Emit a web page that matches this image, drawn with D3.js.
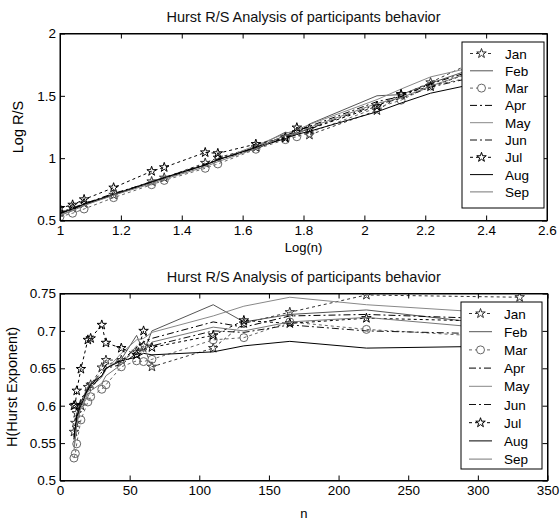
<!DOCTYPE html>
<html>
<head>
<meta charset="utf-8">
<script src="https://cdn.jsdelivr.net/npm/d3@7"></script>
<style>
  body { margin: 0; background: #fff; }
  svg { font-family: "Liberation Sans", Arial, sans-serif; }
</style>
</head>
<body>
<svg id="chart" width="560" height="521"></svg>
<script>
// window sizes n used for the R/S analysis
const nVals = [10, 11, 12, 15, 20, 22, 30, 33, 44, 55, 60, 66, 110, 132, 165, 220, 330];
const months = ['Jan', 'Feb', 'Mar', 'Apr', 'May', 'Jun', 'Jul', 'Aug', 'Sep'];

// Hurst exponent per month, one value per n
const hJan = [0.565, 0.577, 0.590, 0.600, 0.625, 0.628, 0.651, 0.661, 0.661, 0.672, 0.680, 0.652, 0.677, 0.710, 0.725, 0.748, 0.745];
const hFeb = [0.555, 0.567, 0.585, 0.605, 0.625, 0.630, 0.640, 0.650, 0.662, 0.694, 0.672, 0.700, 0.735, 0.712, 0.722, 0.728, 0.705];
const hMar = [0.530, 0.536, 0.549, 0.581, 0.605, 0.612, 0.622, 0.628, 0.652, 0.660, 0.659, 0.662, 0.688, 0.691, 0.712, 0.702, 0.690];
const hApr = [0.560, 0.570, 0.588, 0.610, 0.620, 0.628, 0.645, 0.655, 0.660, 0.678, 0.685, 0.690, 0.712, 0.705, 0.720, 0.722, 0.715];
const hMay = [0.545, 0.560, 0.578, 0.600, 0.618, 0.625, 0.638, 0.648, 0.670, 0.688, 0.690, 0.698, 0.720, 0.733, 0.745, 0.735, 0.722];
const hJun = [0.555, 0.568, 0.582, 0.605, 0.622, 0.624, 0.640, 0.650, 0.655, 0.670, 0.675, 0.680, 0.700, 0.698, 0.708, 0.700, 0.695];
const hJul = [0.600, 0.601, 0.620, 0.649, 0.688, 0.690, 0.708, 0.684, 0.677, 0.668, 0.700, 0.678, 0.694, 0.714, 0.710, 0.717, 0.712];
const hAug = [0.558, 0.570, 0.585, 0.600, 0.622, 0.628, 0.640, 0.650, 0.660, 0.665, 0.670, 0.668, 0.672, 0.680, 0.686, 0.677, 0.680];
const hSep = [0.540, 0.555, 0.575, 0.598, 0.612, 0.620, 0.630, 0.640, 0.655, 0.680, 0.672, 0.685, 0.705, 0.700, 0.712, 0.718, 0.700];
const hAll = [hJan, hFeb, hMar, hApr, hMay, hJun, hJul, hAug, hSep];

const topXTicks = [1, 1.2, 1.4, 1.6, 1.8, 2, 2.2, 2.4, 2.6];
const topYTicks = [0.5, 1, 1.5, 2];
const botXTicks = [0, 50, 100, 150, 200, 250, 300, 350];
const botYTicks = [0.5, 0.55, 0.6, 0.65, 0.7, 0.75];

// line style per month
const styles = [
  {color: '#333', dash: '3,3', marker: 'star'},
  {color: '#555', dash: null, marker: null},
  {color: '#666', dash: '3,3', marker: 'circle'},
  {color: '#000', dash: '7,3,2,3', marker: null},
  {color: '#888', dash: null, marker: null},
  {color: '#111', dash: '7,3,2,3', marker: null},
  {color: '#000', dash: '3,3', marker: 'star'},
  {color: '#000', dash: null, marker: null},
  {color: '#777', dash: null, marker: null}
];

const svg = d3.select('#chart');
const fmt = d => String(d);
const star = d3.symbol().type(d3.symbolStar).size(28);

function drawPanel(opt) {
  const {x, y, xTicks, yTicks, series, title, xLabel, xLabelDy, yLabel, yLabelX, legend, id} = opt;
  const g = svg.append('g');
  const [x0, x1] = x.range();
  const [y0, y1] = y.range();

  g.append('clipPath').attr('id', id)
    .append('rect').attr('x', x0).attr('y', y1).attr('width', x1 - x0).attr('height', y0 - y1);

  const plot = g.append('g').attr('clip-path', `url(#${id})`);
  const line = d3.line().x(d => x(d[0])).y(d => y(d[1]));

  series.forEach((pts, i) => {
    const s = styles[i];
    plot.append('path')
      .attr('d', line(pts))
      .attr('fill', 'none')
      .attr('stroke', s.color)
      .attr('stroke-width', 1)
      .attr('stroke-dasharray', s.dash);
    if (s.marker === 'star') {
      plot.selectAll(null).data(pts).enter().append('path')
        .attr('d', star)
        .attr('transform', d => `translate(${x(d[0])},${y(d[1])})`)
        .attr('fill', 'none').attr('stroke', s.color).attr('stroke-width', 1);
    } else if (s.marker === 'circle') {
      plot.selectAll(null).data(pts).enter().append('circle')
        .attr('cx', d => x(d[0])).attr('cy', d => y(d[1])).attr('r', 4)
        .attr('fill', 'none').attr('stroke', s.color).attr('stroke-width', 1);
    }
  });

  // axes, MATLAB style: ticks inside, box all round
  const axes = g.append('g');
  axes.append('g').attr('transform', `translate(0,${y0})`)
    .call(d3.axisBottom(x).tickValues(xTicks).tickFormat(fmt).tickSizeInner(-5).tickSizeOuter(0).tickPadding(5));
  axes.append('g').attr('transform', `translate(0,${y1})`)
    .call(d3.axisTop(x).tickValues(xTicks).tickFormat('').tickSizeInner(-5).tickSizeOuter(0));
  axes.append('g').attr('transform', `translate(${x0},0)`)
    .call(d3.axisLeft(y).tickValues(yTicks).tickFormat(fmt).tickSizeInner(-5).tickSizeOuter(0).tickPadding(4));
  axes.append('g').attr('transform', `translate(${x1},0)`)
    .call(d3.axisRight(y).tickValues(yTicks).tickFormat('').tickSizeInner(-5).tickSizeOuter(0));
  axes.selectAll('.domain').attr('stroke', '#000');
  axes.selectAll('.tick line').attr('stroke', '#000');
  axes.selectAll('.tick text').attr('fill', '#000').attr('font-size', 13.5)
    .attr('font-family', '"Liberation Sans", Arial, sans-serif');

  g.append('rect').attr('x', x0).attr('y', y1).attr('width', x1 - x0).attr('height', y0 - y1)
    .attr('fill', 'none').attr('stroke', '#000').attr('stroke-width', 1);

  const cx = (x0 + x1) / 2;
  g.append('text').attr('x', cx).attr('y', y1 - 12)
    .attr('text-anchor', 'middle').attr('font-size', 14.5).attr('fill', '#111').text(title);
  g.append('text').attr('x', cx).attr('y', y0 + xLabelDy)
    .attr('text-anchor', 'middle').attr('font-size', 13).text(xLabel);
  g.append('text').attr('transform', `translate(${yLabelX},${(y0 + y1) / 2}) rotate(-90)`)
    .attr('text-anchor', 'middle').attr('font-size', 14.5).text(yLabel);

  // legend
  const lg = g.append('g');
  lg.append('rect').attr('x', legend.x).attr('y', legend.y).attr('width', legend.w).attr('height', legend.h)
    .attr('fill', '#fff').attr('stroke', '#000');
  months.forEach((m, i) => {
    const s = styles[i];
    const ry = legend.y + 11.5 + i * legend.step;
    const lx0 = legend.x + 8, lx1 = legend.x + 31;
    lg.append('line').attr('x1', lx0).attr('x2', lx1).attr('y1', ry).attr('y2', ry)
      .attr('stroke', s.color).attr('stroke-dasharray', s.dash);
    const mx = (lx0 + lx1) / 2;
    if (s.marker === 'star') {
      lg.append('path').attr('d', star).attr('transform', `translate(${mx},${ry})`)
        .attr('fill', '#fff').attr('stroke', s.color);
    } else if (s.marker === 'circle') {
      lg.append('circle').attr('cx', mx).attr('cy', ry).attr('r', 4)
        .attr('fill', '#fff').attr('stroke', s.color);
    }
    lg.append('text').attr('x', legend.x + 43).attr('y', ry + 5)
      .attr('font-size', 13.5).text(m);
  });
}

// upper panel: log(n) vs log(R/S), where log(R/S) = H * log(n)
const xTop = d3.scaleLinear().domain([1, 2.6]).range([60, 547]);
const yTop = d3.scaleLinear().domain([0.5, 2]).range([220.5, 33.5]);
drawPanel({
  id: 'clipTop', x: xTop, y: yTop, xTicks: topXTicks, yTicks: topYTicks,
  series: hAll.map(h => h.map((v, j) => [Math.log10(nVals[j]), v * Math.log10(nVals[j])])),
  title: 'Hurst R/S Analysis of participants behavior',
  xLabel: 'Log(n)', xLabelDy: 31, yLabel: 'Log R/S', yLabelX: 23,
  legend: {x: 462, y: 42, w: 82, h: 166, step: 17.3}
});

// lower panel: n vs H
const xBot = d3.scaleLinear().domain([0, 350]).range([60, 547.5]);
const yBot = d3.scaleLinear().domain([0.5, 0.75]).range([480.5, 293.5]);
drawPanel({
  id: 'clipBot', x: xBot, y: yBot, xTicks: botXTicks, yTicks: botYTicks,
  series: hAll.map(h => h.map((v, j) => [nVals[j], v])),
  title: 'Hurst R/S Analysis of participants behavior',
  xLabel: 'n', xLabelDy: 37, yLabel: 'H(Hurst Exponent)', yLabelX: 17,
  legend: {x: 461, y: 302, w: 81, h: 167, step: 18.2}
});
</script>
</body>
</html>
